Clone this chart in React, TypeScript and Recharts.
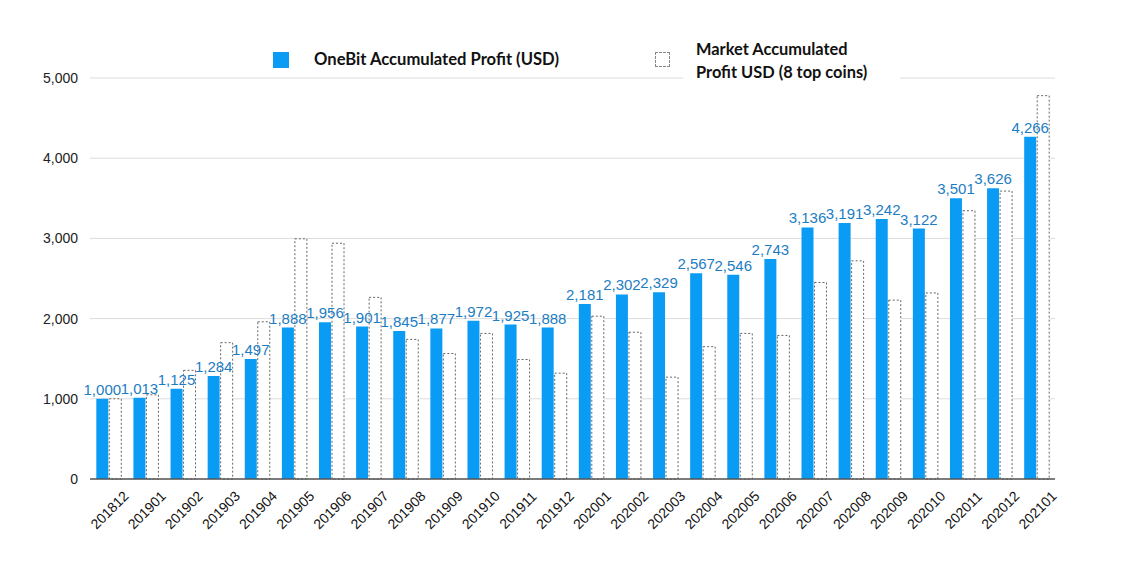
import React from 'react';
import { BarChart, Bar, XAxis, YAxis, CartesianGrid, LabelList } from 'recharts';

const months = ['201812','201901','201902','201903','201904','201905','201906','201907','201908','201909','201910','201911','201912','202001','202002','202003','202004','202005','202006','202007','202008','202009','202010','202011','202012','202101'];
const onebit = [1000,1013,1125,1284,1497,1888,1956,1901,1845,1877,1972,1925,1888,2181,2302,2329,2567,2546,2743,3136,3191,3242,3122,3501,3626,4266];
const market = [1000,1050,1355,1700,1960,2995,2940,2265,1740,1565,1815,1490,1320,2030,1830,1270,1650,1815,1790,2450,2720,2230,2320,3345,3590,4780];
const yTicks = [0,1000,2000,3000,4000,5000];

const data = months.map((m, i) => ({ month: m, onebit: onebit[i], market: market[i] }));

const BLUE = '#0a9cf5';
const LABEL_BLUE = '#1c7dc3';

const XTick = (props: any) => {
  const { x, y, payload } = props;
  const cx = x + 1;
  const cy = y + 23;
  return (
    <text x={cx} y={cy} transform={`rotate(-45 ${cx} ${cy})`} textAnchor="middle" dominantBaseline="central"
      fontFamily="'Liberation Sans', Arial, sans-serif" fontSize={14} fill="#111">
      {payload.value}
    </text>
  );
};

const fmt = (v: number) => v.toLocaleString('en-US');

const legendFont = "Lato, 'Open Sans', sans-serif";

export default function App() {
  return (
    <div style={{ position: 'absolute', left: 0, top: 0, width: 1127, height: 572, background: '#fff' }}>
      <BarChart width={1127} height={572} data={data}
        margin={{ top: 78, right: 72, left: 0, bottom: 0 }}
        barCategoryGap="17%" barGap={1}>
        <CartesianGrid vertical={false} stroke="#dcdcdc" strokeWidth={1} />
        <XAxis dataKey="month" height={93} interval={0} tick={<XTick />} tickLine={false}
          axisLine={{ stroke: '#555', strokeWidth: 1.5 }} />
        <YAxis width={90} domain={[0, 5000]} ticks={yTicks} axisLine={false} tickLine={false}
          tickSize={6} tickMargin={6} tickFormatter={fmt}
          tick={{ fontFamily: "'Liberation Sans', Arial, sans-serif", fontSize: 14, fill: '#222' }} />
        <Bar dataKey="onebit" fill={BLUE} isAnimationActive={false}>
          <LabelList dataKey="onebit" position="top" offset={4} formatter={fmt}
            style={{ fontFamily: "'Liberation Sans', Arial, sans-serif", fontSize: 15, fill: LABEL_BLUE }} />
        </Bar>
        <Bar dataKey="market" fill="#fff" stroke="#666" strokeWidth={1} strokeDasharray="2 2" isAnimationActive={false} />
      </BarChart>
      {/* legend */}
      <div style={{ position: 'absolute', left: 273, top: 52, width: 16, height: 16, background: BLUE }} />
      <div style={{ position: 'absolute', left: 314, top: 48, fontFamily: legendFont, fontWeight: 700, fontSize: 16.6, color: '#111', whiteSpace: 'nowrap', lineHeight: '23px' }}>
        OneBit Accumulated Profit (USD)
      </div>
      <div style={{ position: 'absolute', left: 655, top: 52, width: 15, height: 15, border: '1px dashed #888', boxSizing: 'border-box', background: '#fff' }} />
      <div style={{ position: 'absolute', left: 683, top: 38, width: 217, height: 42, background: '#fff' }} />
      <div style={{ position: 'absolute', left: 696, top: 37, fontFamily: legendFont, fontWeight: 700, fontSize: 16.4, color: '#111', whiteSpace: 'nowrap', lineHeight: '23px' }}>
        Market Accumulated<br />Profit USD (8 top coins)
      </div>
    </div>
  );
}
